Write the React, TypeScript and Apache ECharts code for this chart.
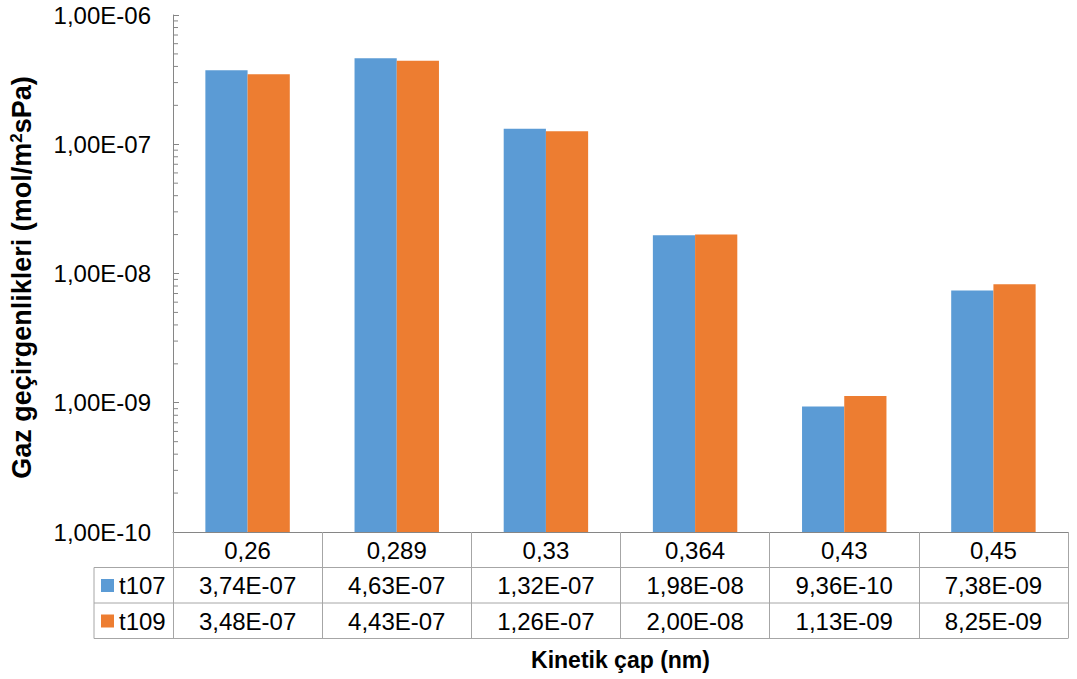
import React, { useEffect, useRef } from "react";
import * as echarts from "echarts";

const categories = ["0,26", "0,289", "0,33", "0,364", "0,43", "0,45"];
const t107 = [3.74e-7, 4.63e-7, 1.32e-7, 1.98e-8, 9.36e-10, 7.38e-9];
const t109 = [3.48e-7, 4.43e-7, 1.26e-7, 2.0e-8, 1.13e-9, 8.25e-9];
const seriesNames = ["t107", "t109"];
const seriesColors = ["#5B9BD5", "#ED7D31"];
const yMin = 1e-10;
const yMax = 1e-6;
const minorMantissas = [2, 3, 4, 5, 6, 7, 8, 9];
const minorDecades = [1e-10, 1e-9, 1e-8, 1e-7];

const FONT = "'Liberation Sans', Arial, sans-serif";
const AXIS = "#868686";
const GRID = "#a6a6a6";
const FS = 24;

function fmt(v: number): string {
  const [m, e] = v.toExponential(2).split("e");
  const n = parseInt(e, 10);
  return m.replace(".", ",") + "E" + (n < 0 ? "-" : "+") + String(Math.abs(n)).padStart(2, "0");
}

export default function App() {
  const ref = useRef<HTMLDivElement>(null);
  useEffect(() => {
    if (!ref.current) return;
    const chart = echarts.init(ref.current, undefined, { renderer: "svg" });
    const minorTicks: number[][] = [];
    minorDecades.forEach((d) => minorMantissas.forEach((m) => minorTicks.push([0, m * d])));

    const left = 172;
    const right = 9;
    const top = 15;
    const bottom = 147;
    const W = 1077;
    const H = 679;
    const axisY = H - bottom;
    const tableRight = W - right;
    const row = 35.5;

    const hline = (x1: number, x2: number, y: number) => ({
      type: "line",
      shape: { x1, y1: y, x2, y2: y },
      style: { stroke: GRID, lineWidth: 1 },
      silent: true,
    });

    const barSeries = (idx: number, values: number[]) => ({
      name: seriesNames[idx],
      type: "custom",
      data: values.map((v, i) => [i, v]),
      encode: { x: 0, y: 1 },
      itemStyle: { color: seriesColors[idx] },
      renderItem: (params: any, api: any) => {
        const ci = api.value(0);
        const v = api.value(1);
        const tp = api.coord([ci, v]);
        const bp = api.coord([ci, yMin]);
        const bw = api.size([1, yMin])[0] * 0.283;
        const x = idx === 0 ? tp[0] - bw : tp[0];
        return {
          type: "rect",
          shape: { x, y: tp[1], width: bw, height: bp[1] - tp[1] },
          style: { fill: seriesColors[idx] },
        };
      },
    });

    chart.setOption({
      animation: false,
      textStyle: { fontFamily: FONT },
      grid: { left, right, top, bottom, containLabel: false },
      legend: {
        data: seriesNames.map((n, i) => ({ name: n, itemStyle: { color: seriesColors[i] } })),
        orient: "vertical",
        left: 101,
        top: axisY + row + 5,
        padding: 0,
        icon: "rect",
        itemWidth: 13,
        itemHeight: 13,
        itemGap: 9.5,
        itemTextGap: 5,
        textStyle: { fontSize: FS, color: "#000", fontFamily: FONT, lineHeight: 26 },
        selectedMode: false,
      },
      xAxis: [
        {
          type: "category",
          data: categories,
          position: "bottom",
          axisLine: { show: true, lineStyle: { color: AXIS } },
          axisTick: {
            show: true,
            interval: 0,
            length: row * 3,
            lineStyle: { color: GRID },
          },
          axisLabel: { fontSize: FS, color: "#000", margin: 6, interval: 0 },
          splitLine: { show: false },
        },
        {
          type: "category",
          data: t107.map(fmt),
          position: "bottom",
          offset: row,
          axisLine: { show: false },
          axisTick: { show: false },
          axisLabel: { fontSize: FS, color: "#000", margin: 6, interval: 0 },
        },
        {
          type: "category",
          data: t109.map(fmt),
          position: "bottom",
          offset: row * 2,
          axisLine: { show: false },
          axisTick: { show: false },
          axisLabel: { fontSize: FS, color: "#000", margin: 6, interval: 0 },
          name: "Kinetik çap (nm)",
          nameLocation: "middle",
          nameGap: 45,
          nameTextStyle: { fontSize: 23, fontWeight: "bold", color: "#000", fontFamily: FONT },
        },
      ],
      yAxis: {
        type: "log",
        logBase: 10,
        min: yMin,
        max: yMax,
        splitNumber: 4,
        axisLine: { show: true, lineStyle: { color: AXIS } },
        axisTick: { show: true, inside: true, length: 6, lineStyle: { color: AXIS } },
        splitLine: { show: false },
        axisLabel: {
          fontSize: FS,
          color: "#000",
          margin: 22,
          formatter: (v: number) => fmt(v),
        },
        name: "Gaz geçirgenlikleri (mol/m{sup|2}sPa)",
        nameLocation: "middle",
        nameGap: 138,
        nameTextStyle: {
          fontSize: 27,
          fontWeight: "bold",
          color: "#000",
          fontFamily: FONT,
          padding: [0, 8, 0, 0],
          rich: {
            sup: { fontSize: 17, fontWeight: "bold", verticalAlign: "top", padding: [0, 0, 10, 0], fontFamily: FONT },
          },
        },
      },
      series: [
        barSeries(0, t107),
        barSeries(1, t109),
        {
          type: "custom",
          silent: true,
          data: minorTicks,
          encode: { x: 0, y: 1 },
          renderItem: (params: any, api: any) => {
            const y = api.coord([0, api.value(1)])[1];
            const x0 = params.coordSys.x;
            return {
              type: "line",
              shape: { x1: x0, y1: y, x2: x0 + 5, y2: y },
              style: { stroke: AXIS, lineWidth: 1 },
            };
          },
        },
      ],
      graphic: [
        hline(94, tableRight, axisY + row),
        hline(94, tableRight, axisY + row * 2),
        hline(94, tableRight, axisY + row * 3),
        {
          type: "line",
          shape: { x1: 94, y1: axisY + row, x2: 94, y2: axisY + row * 3 },
          style: { stroke: GRID, lineWidth: 1 },
          silent: true,
        },
      ],
    });
    return () => chart.dispose();
  }, []);
  return (
    <div
      ref={ref}
      style={{ position: "fixed", left: 0, top: 0, width: 1077, height: 679, background: "#fff" }}
    />
  );
}
